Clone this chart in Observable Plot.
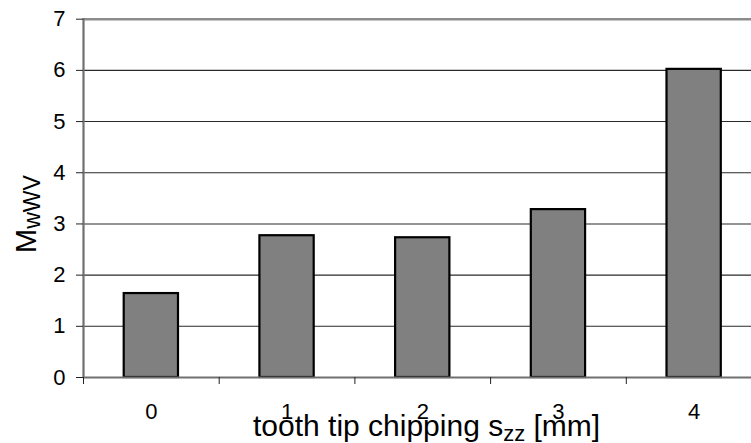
<!DOCTYPE html>
<html>
<head>
<meta charset="utf-8">
<script src="https://cdn.jsdelivr.net/npm/d3@7"></script>
<script src="https://cdn.jsdelivr.net/npm/@observablehq/plot@0.6"></script>
<style>
  html, body { margin: 0; padding: 0; background: #fff; overflow: hidden; }
  svg { font-family: Arial, "Liberation Sans", sans-serif; display: block; }
</style>
</head>
<body>
<div id="chart"></div>
<script>
const categories = [0, 1, 2, 3, 4];
const values = [1.64, 2.77, 2.73, 3.28, 6.02];
const yTicks = [0, 1, 2, 3, 4, 5, 6, 7];
const bandEdges = [-0.5, 0.5, 1.5, 2.5, 3.5, 4.5];
const xLabelText = "tooth tip chipping s";
const xLabelSub = "zz";
const xLabelTail = " [mm]";
const yLabelText = "M";
const yLabelSub = "wWV";

const data = categories.map((c, i) => ({c, v: values[i]}));
const halfBar = 0.2;

const chart = Plot.plot({
  width: 751,
  height: 443,
  marginLeft: 83,
  marginRight: 0,
  marginTop: 18,
  marginBottom: 66,
  style: {fontFamily: "Arial, 'Liberation Sans', sans-serif", fontSize: "21px", background: "#fff", overflow: "hidden"},
  x: {domain: [bandEdges[0], bandEdges[bandEdges.length - 1]], range: [83, 761.5]},
  y: {domain: [0, 7], range: [377, 18.7]},
  marks: [
    Plot.gridY(yTicks.slice(1, -1), {stroke: "#2a2a2a", strokeOpacity: 1, strokeWidth: 1.1}),
    Plot.ruleY([7], {stroke: "#8c8c8c", strokeWidth: 2.5}),
    Plot.rectY(data, {x1: d => d.c - halfBar, x2: d => d.c + halfBar, y1: 0, y2: "v", fill: "#808080", stroke: "#000", strokeWidth: 2.2}),
    Plot.ruleY([0], {stroke: "#707070", strokeWidth: 2}),
    Plot.ruleX([bandEdges[0]], {stroke: "#707070", strokeWidth: 2.2}),
    Plot.axisY(yTicks, {tickSize: 7, tickPadding: 11, tickFormat: d3.format("d"), stroke: "#222", color: "#000", label: null}),
    Plot.axisX(bandEdges, {tickSize: 7, tickFormat: () => "", stroke: "#222", label: null}),
    Plot.axisX(categories, {tickSize: 0, tickPadding: 26, tickFormat: d3.format("d"), color: "#000", label: null})
  ]
});

const svg = d3.select(chart);
svg.selectAll('g[aria-label$="tick label"]').attr("font-size", 22).selectAll("text").attr("font-size", 22);

const xl = svg.append("text")
  .attr("x", 253).attr("y", 436)
  .attr("text-anchor", "start")
  .attr("font-size", 30).attr("fill", "#000");
xl.append("tspan").text(xLabelText);
xl.append("tspan").attr("font-size", 22).attr("dy", 5).text(xLabelSub);
xl.append("tspan").attr("dy", -5).text(xLabelTail);

const yl = svg.append("text")
  .attr("transform", "translate(36,253) rotate(-90)")
  .attr("text-anchor", "start")
  .attr("font-size", 29).attr("fill", "#000");
yl.append("tspan").text(yLabelText);
yl.append("tspan").attr("font-size", 23).attr("dy", 4).text(yLabelSub);

document.getElementById("chart").appendChild(chart);
</script>
</body>
</html>
